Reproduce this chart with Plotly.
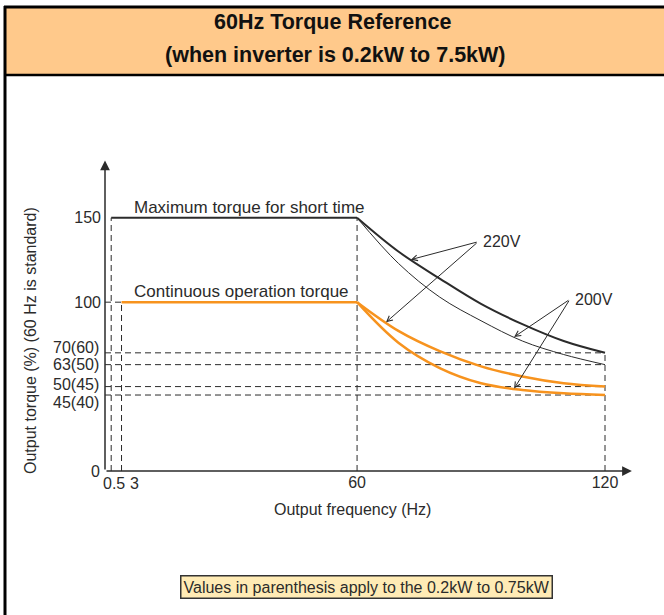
import numpy as np
import plotly.graph_objects as go

# ---- data -----------------------------------------------------------------
# frequency points of the constant-output region (Hz)
freq_curve = [60, 70, 80, 90, 100, 110, 120]
# maximum torque for short time (%)
max_220v = [150, 130, 114, 99, 87, 77, 70]
max_200v = [150, 123, 103, 89, 77, 69, 63]
# continuous operation torque (%)
cont_220v = [100, 83, 71, 62, 56, 52, 50]
cont_200v = [100, 76, 61, 52, 48, 46, 45]

f_start_short = 0.5   # Hz, start of short-time torque line
f_start_cont = 3      # Hz, start of continuous torque line
f_base = 60           # Hz, base frequency
f_max = 120           # Hz, maximum frequency
t_short = 150         # %
t_cont = 100          # %

x_tick_vals = [60, 120]
x_tick_text = ["60", "120"]
y_tick_vals = [100, 150]
y_tick_text = ["100", "150"]
y_end_vals = [70, 63, 50, 45]
y_end_text = ["70(60)", "63(50)", "50(45)", "45(40)"]

# ---- layout geometry (pixels) ----------------------------------------------
W, H = 664, 615
ML, MR, MT, MB = 105, 28, 157, 144
PW, PH = W - ML - MR, H - MT - MB
X_RANGE = [-1, 127.5]
Y_RANGE = [0, 186]


def paper_x(px):
    return (px - ML) / PW


def paper_y(py):
    return (MT + PH - py) / PH


FONT = "Liberation Sans, Arial, sans-serif"
INK = "#2b2b2b"
ORANGE = "#F7931E"
DASH = "6px,4px"

fig = go.Figure()


def line(xs, ys, color=INK, width=1, dash=None, shape="linear"):
    fig.add_trace(go.Scatter(
        x=xs, y=ys, mode="lines", hoverinfo="skip", showlegend=False,
        line=dict(color=color, width=width, dash=dash, shape=shape),
        cliponaxis=False,
    ))


x0 = X_RANGE[0]

# dashed guide lines
line([f_start_short, f_start_short], [0, t_short], dash=DASH)
line([f_start_cont, f_start_cont], [0, t_cont], dash=DASH)
line([f_base, f_base], [0, t_short], dash=DASH)
line([f_max, f_max], [0, max_220v[-1]], dash=DASH)
line([x0, f_start_cont], [t_cont, t_cont], dash=DASH)
for v in y_end_vals:
    line([x0, f_max], [v, v], dash=DASH)

# torque characteristics
line([f_start_short, f_base], [t_short, t_short], color=INK, width=2)
line(freq_curve, max_220v, color=INK, width=2, shape="spline")
line(freq_curve, max_200v, color=INK, width=1, shape="spline")
line([f_start_cont, f_base], [t_cont, t_cont], color=ORANGE, width=2.5)
line(freq_curve, cont_220v, color=ORANGE, width=2.5, shape="spline")
line(freq_curve, cont_200v, color=ORANGE, width=2.5, shape="spline")

annotations = []

# axes with arrow heads
annotations.append(dict(x=126.5, y=0, ax=x0, ay=0, xref="x", yref="y",
                        axref="x", ayref="y", text="", showarrow=True,
                        arrowhead=2, arrowsize=1.3, arrowwidth=1.5,
                        arrowcolor=INK, standoff=0))
annotations.append(dict(x=x0, y=184, ax=x0, ay=0, xref="x", yref="y",
                        axref="x", ayref="y", text="", showarrow=True,
                        arrowhead=2, arrowsize=1.3, arrowwidth=1.5,
                        arrowcolor=INK, standoff=0))

tick_font = dict(family=FONT, size=16, color=INK)

# origin and low-frequency tick labels
annotations.append(dict(x=x0, y=0, xref="x", yref="y", text="0",
                        showarrow=False, xanchor="right", yanchor="middle",
                        xshift=-3, font=tick_font))
annotations.append(dict(x=f_start_short, y=0, xref="x", yref="y", text="0.5",
                        showarrow=False, xanchor="center", yanchor="top",
                        xshift=3, yshift=-2, font=tick_font))
annotations.append(dict(x=f_start_cont, y=0, xref="x", yref="y", text="3",
                        showarrow=False, xanchor="center", yanchor="top",
                        xshift=13, yshift=-2, font=tick_font))

# end-point torque labels (nudged apart so they stay readable)
end_shift = [5, 0, 2, -7]
for v, t, s in zip(y_end_vals, y_end_text, end_shift):
    annotations.append(dict(x=x0, y=v, xref="x", yref="y", text=t,
                            showarrow=False, xanchor="right", yanchor="middle",
                            xshift=-4, yshift=s, font=tick_font))

# curve captions
cap_font = dict(family=FONT, size=17, color=INK)
annotations.append(dict(x=f_start_cont, y=t_short, xref="x", yref="y",
                        text="Maximum torque for short time", showarrow=False,
                        xanchor="left", yanchor="bottom", xshift=10, yshift=-1,
                        font=cap_font))
annotations.append(dict(x=f_start_cont, y=t_cont, xref="x", yref="y",
                        text="Continuous operation torque", showarrow=False,
                        xanchor="left", yanchor="bottom", xshift=10, yshift=-1,
                        font=cap_font))

# voltage callouts
callouts = [
    ("220V", (89.3, 135.8), [(73, max_220v), (67, cont_220v)]),
    ("200V", (111.5, 101.7), [(98, max_200v), (98, cont_200v)]),
]
for label, (tx, ty), targets in callouts:
    for fx, series in targets:
        fy = float(np.interp(fx, freq_curve, series))
        annotations.append(dict(x=fx, y=fy, ax=tx, ay=ty, xref="x", yref="y",
                                axref="x", ayref="y", text="", showarrow=True,
                                arrowhead=5, arrowsize=1.1, arrowwidth=1,
                                arrowcolor=INK, standoff=0))
    annotations.append(dict(x=tx, y=ty, xref="x", yref="y", text=label,
                            showarrow=False, xanchor="left", yanchor="middle",
                            xshift=3, font=tick_font))


def paper_text(px, py, text, font, **kw):
    annotations.append(dict(x=paper_x(px), y=paper_y(py), xref="paper",
                            yref="paper", text=text, showarrow=False,
                            xanchor="center", yanchor="middle", font=font,
                            **kw))


# axis titles
paper_text(352, 509, "Output frequency (Hz)", tick_font)
paper_text(30, 341, "Output torque (%) (60 Hz is standard)", tick_font,
           textangle=-90)

# header
title_font = dict(family=FONT, size=21.5, color="#111111")
paper_text(332, 22, "<b>60Hz Torque Reference</b>", title_font)
paper_text(335, 55, "<b>(when inverter is 0.2kW to 7.5kW)</b>", title_font)

# footnote
paper_text(366, 587, "Values in parenthesis apply to the 0.2kW to 0.75kW",
           dict(family=FONT, size=16, color=INK),
           bgcolor="#FFEBB5", bordercolor="#333333", borderwidth=1.5,
           borderpad=2)

shapes = [
    # header band
    dict(type="rect", xref="paper", yref="paper",
         x0=paper_x(5), x1=paper_x(664), y0=paper_y(7), y1=paper_y(75),
         fillcolor="#FFC98B", line=dict(width=0), layer="below"),
    dict(type="line", xref="paper", yref="paper",
         x0=paper_x(4), x1=paper_x(664), y0=paper_y(7), y1=paper_y(7),
         line=dict(color="#000000", width=3)),
    dict(type="line", xref="paper", yref="paper",
         x0=paper_x(4), x1=paper_x(664), y0=paper_y(75), y1=paper_y(75),
         line=dict(color="#000000", width=2.5)),
    # left frame edge
    dict(type="line", xref="paper", yref="paper",
         x0=paper_x(5), x1=paper_x(5), y0=paper_y(6), y1=paper_y(615),
         line=dict(color="#000000", width=3)),
]

fig.update_layout(
    width=W, height=H,
    margin=dict(l=ML, r=MR, t=MT, b=MB, autoexpand=False),
    paper_bgcolor="white", plot_bgcolor="white",
    showlegend=False,
    font=dict(family=FONT, color=INK),
    xaxis=dict(range=X_RANGE, showgrid=False, zeroline=False, showline=False,
               tickvals=x_tick_vals, ticktext=x_tick_text, ticks="",
               tickfont=tick_font, fixedrange=True),
    yaxis=dict(range=Y_RANGE, showgrid=False, zeroline=False, showline=False,
               tickvals=y_tick_vals, ticktext=y_tick_text, ticks="",
               tickfont=tick_font, ticklabelstandoff=3, fixedrange=True),
    annotations=annotations,
    shapes=shapes,
)

fig.write_html("out.html")
